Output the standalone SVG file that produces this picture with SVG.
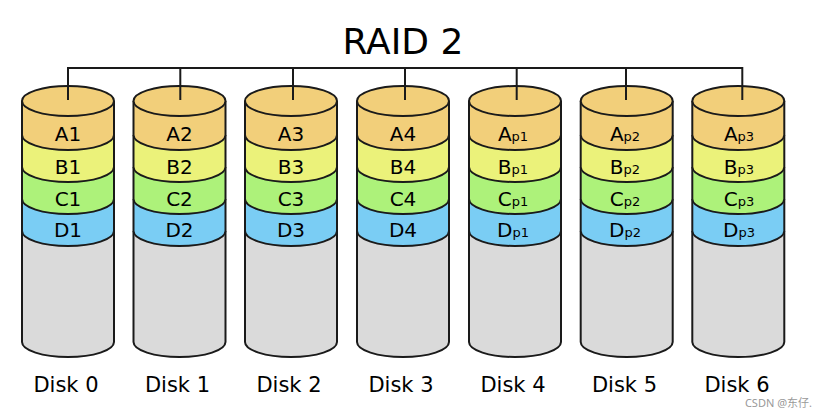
<svg xmlns="http://www.w3.org/2000/svg" width="825" height="412" viewBox="0 0 825 412">
<style>
.s{stroke:#1a1a1a;stroke-width:2;stroke-linejoin:round}
.a{fill:#f2cf7a}.b{fill:#ebf27a}.c{fill:#adf27a}.d{fill:#7acdf4}.g{fill:#dadada}
.t{font-family:"DejaVu Sans",sans-serif;font-size:20px;fill:#000;text-anchor:middle}
.sub{font-size:13px}
.lbl{font-family:"DejaVu Sans",sans-serif;font-size:21px;fill:#000;text-anchor:middle}
.conn{fill:none;stroke:#1a1a1a;stroke-width:2}
</style>
<defs>
<g id="cyl">
<path class="g s" d="M0,231 V342 A46,15 0 0 0 92,342 V231"/>
<path class="d s" d="M0,199 V231 A46,15 0 0 0 92,231 V199"/>
<path class="c s" d="M0,167 V199 A46,15 0 0 0 92,199 V167"/>
<path class="b s" d="M0,135 V167 A46,15 0 0 0 92,167 V135"/>
<path class="a s" d="M0,101 V135 A46,15 0 0 0 92,135 V101"/>
<ellipse class="a s" cx="46" cy="101" rx="46" ry="15"/>
</g>
</defs>
<rect width="825" height="412" fill="#fff"/>
<text x="403" y="54" font-family="DejaVu Sans, sans-serif" font-size="36" text-anchor="middle">RAID 2</text>
<g id="disk0"><use href="#cyl" x="22"/>
<text class="t" x="68" y="141">A1</text><text class="t" x="68" y="174">B1</text><text class="t" x="68" y="205.5">C1</text><text class="t" x="68" y="237">D1</text>
<text class="lbl" x="66" y="392">Disk 0</text></g>
<g id="disk1"><use href="#cyl" x="133.5"/>
<text class="t" x="179.5" y="141">A2</text><text class="t" x="179.5" y="174">B2</text><text class="t" x="179.5" y="205.5">C2</text><text class="t" x="179.5" y="237">D2</text>
<text class="lbl" x="177.5" y="392">Disk 1</text></g>
<g id="disk2"><use href="#cyl" x="245"/>
<text class="t" x="291" y="141">A3</text><text class="t" x="291" y="174">B3</text><text class="t" x="291" y="205.5">C3</text><text class="t" x="291" y="237">D3</text>
<text class="lbl" x="289" y="392">Disk 2</text></g>
<g id="disk3"><use href="#cyl" x="357"/>
<text class="t" x="403" y="141">A4</text><text class="t" x="403" y="174">B4</text><text class="t" x="403" y="205.5">C4</text><text class="t" x="403" y="237">D4</text>
<text class="lbl" x="401" y="392">Disk 3</text></g>
<g id="disk4"><use href="#cyl" x="469"/>
<text class="t" x="513" y="141">A<tspan class="sub">p1</tspan></text><text class="t" x="513" y="174">B<tspan class="sub">p1</tspan></text><text class="t" x="513" y="205.5">C<tspan class="sub">p1</tspan></text><text class="t" x="513" y="237">D<tspan class="sub">p1</tspan></text>
<text class="lbl" x="513" y="392">Disk 4</text></g>
<g id="disk5"><use href="#cyl" x="580.7"/>
<text class="t" x="625" y="141">A<tspan class="sub">p2</tspan></text><text class="t" x="625" y="174">B<tspan class="sub">p2</tspan></text><text class="t" x="625" y="205.5">C<tspan class="sub">p2</tspan></text><text class="t" x="625" y="237">D<tspan class="sub">p2</tspan></text>
<text class="lbl" x="624.5" y="392">Disk 5</text></g>
<g id="disk6"><use href="#cyl" x="692.3"/>
<text class="t" x="739" y="141">A<tspan class="sub">p3</tspan></text><text class="t" x="739" y="174">B<tspan class="sub">p3</tspan></text><text class="t" x="739" y="205.5">C<tspan class="sub">p3</tspan></text><text class="t" x="739" y="237">D<tspan class="sub">p3</tspan></text>
<text class="lbl" x="737" y="392">Disk 6</text></g>
<g id="connectors">
<path class="conn" d="M68,100 V68 H742.3 V100 M180.3,68 V100 M293,68 V100 M405,68 V100 M516.7,68 V100 M626,68 V100"/>
</g>
<text x="812" y="407" font-family="'Noto Sans','Noto Sans CJK SC',sans-serif" font-size="11" fill="#999" text-anchor="end">CSDN @东仔.</text>
</svg>
